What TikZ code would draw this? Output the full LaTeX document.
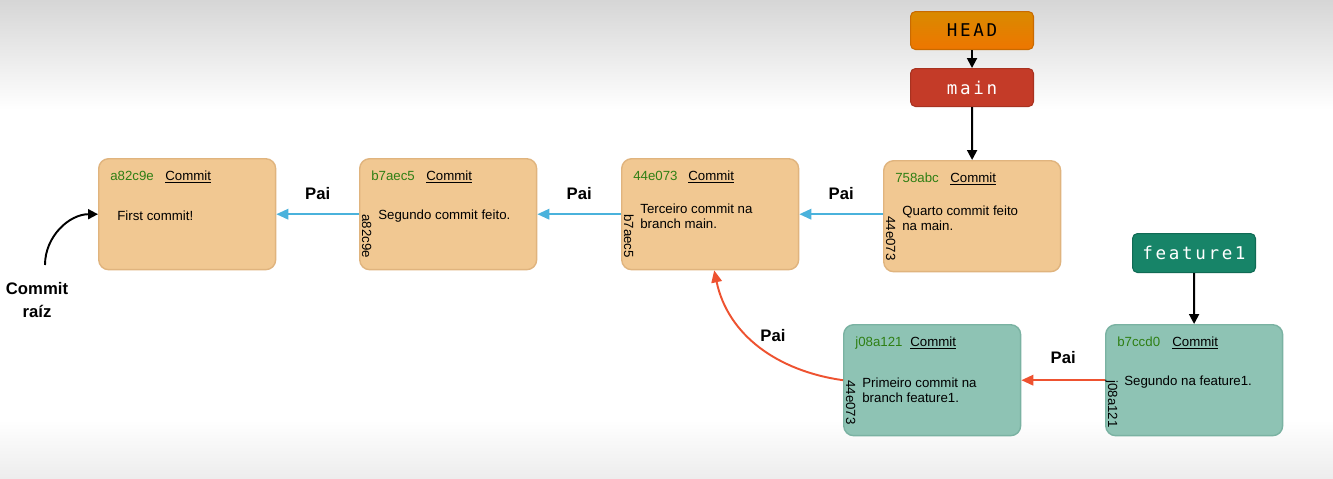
\documentclass[tikz,border=0pt]{standalone}
\usepackage{fontspec}
\setmainfont{Liberation Sans}
\newfontfamily\reffont[LetterSpace=15]{DejaVu Sans Mono}
\usetikzlibrary{arrows.meta,calc}

\definecolor{bgtop}{HTML}{D6D6D6}
\definecolor{bgbot}{HTML}{EDEDED}
\definecolor{commitfill}{HTML}{F1C892}
\definecolor{commitdraw}{HTML}{E0B47E}
\definecolor{featfill}{HTML}{8EC3B4}
\definecolor{featdraw}{HTML}{7AB2A2}
\definecolor{hashgreen}{HTML}{2F7F14}
\definecolor{paiblue}{HTML}{4AB2DC}
\definecolor{paired}{HTML}{EE5230}
\definecolor{headtop}{HTML}{D98A00}
\definecolor{headbot}{HTML}{EE7600}
\definecolor{headdraw}{HTML}{C96A00}
\definecolor{mainfill}{HTML}{C43B28}
\definecolor{maindraw}{HTML}{A83220}
\definecolor{featref}{HTML}{178468}
\definecolor{featrefdraw}{HTML}{106B55}

\begin{document}
\begin{tikzpicture}[x=0.02cm, y=-0.02cm,
  commit/.style={draw=commitdraw, fill=commitfill, line width=0.8pt, rounded corners=0.2cm,
    minimum width=3.54cm, minimum height=2.22cm, anchor=north west},
  featcommit/.style={commit, draw=featdraw, fill=featfill},
  small/.style={font=\fontsize{7.55}{8.6}\selectfont, inner sep=0},
  hash/.style={small, text=hashgreen, anchor=base west},
  title/.style={small, anchor=base west},
  msg/.style={small, anchor=west, align=left},
  parent/.style={small, anchor=base west, rotate=-90},
  ref/.style={font=\reffont\fontsize{10}{12}\selectfont, rounded corners=0.1cm, line width=0.6pt,
    minimum width=2.46cm, minimum height=0.76cm, anchor=north west},
  pai/.style={font=\bfseries\fontsize{9.5}{11}\selectfont, inner sep=0, text=black},
  paiarrow/.style={-{Triangle[length=2.4mm,width=2.1mm]}, line width=1.1pt},
  refarrow/.style={-{Triangle[length=2mm,width=2mm]}, line width=1.1pt, black},
]
\useasboundingbox (0,0) rectangle (1333,478);
\fill[white] (0,0) rectangle (1333,478);
\shade[top color=bgtop, bottom color=white] (0,0) rectangle (1333,110);
\shade[top color=white, bottom color=bgbot] (0,420) rectangle (1333,478);

% commits
\node[commit] (c1) at (98,158) {};
\node[commit] (c2) at (359,158) {};
\node[commit] (c3) at (621,158) {};
\node[commit] (c4) at (883,160) {};
\node[featcommit] (c5) at (843,324) {};
\node[featcommit] (c6) at (1105,324) {};

\foreach \c/\h in {c1/a82c9e, c2/b7aec5, c3/44e073, c4/758abc, c5/j08a121, c6/b7ccd0} {
  \node[hash] (\c-hash) at ($(\c.north west)+(12,22)$) {\h};
  \node[title] (\c-title) at ($(\c.north west)+(67,22)$) {\underline{Commit}};
}
\foreach \c/\p in {c2/a82c9e, c3/b7aec5, c4/44e073, c5/44e073, c6/j08a121}
  \node[parent] (\c-parent) at ($(\c.north west)+(3,56)$) {\p};

\node[msg] (c1-msg) at ($(c1.north west)+(19,58)$) {First commit!};
\node[msg] (c2-msg) at ($(c2.north west)+(19,58)$) {Segundo commit feito.};
\node[msg] (c3-msg) at ($(c3.north west)+(19,58.5)$) {Terceiro commit na\\branch main.};
\node[msg] (c4-msg) at ($(c4.north west)+(19,58.5)$) {Quarto commit feito\\na main.};
\node[msg] (c5-msg) at ($(c5.north west)+(19,66.5)$) {Primeiro commit na\\branch feature1.};
\node[msg] (c6-msg) at ($(c6.north west)+(19,58)$) {Segundo na feature1.};

% refs
\node[ref, top color=headtop, bottom color=headbot, draw=headdraw] (head) at (910,11) {HEAD};
\node[ref, fill=mainfill, draw=maindraw, text=white] (main) at (910,68) {main};
\node[ref, fill=featref, draw=featrefdraw, text=white, minimum height=0.78cm] (feature1) at (1132,233) {feature1};

\draw[refarrow] (head) -- (main);
\draw[refarrow] (main) -- (c4);
\draw[refarrow] (feature1) -- (c6);

% parents
\draw[paiarrow, paiblue] (c2.west) -- node[pai, above=0.28cm] (pai1) {Pai} (c1.east);
\draw[paiarrow, paiblue] (c3.west) -- node[pai, above=0.28cm] (pai2) {Pai} (c2.east);
\draw[paiarrow, paiblue] (c4.west |- c3.east) -- node[pai, above=0.28cm] (pai3) {Pai} (c3.east);
\draw[paiarrow, paired] (c6.west) -- node[pai, above=0.32cm] (pai4) {Pai} (c5.east);
\draw[paiarrow, paired] (c5.west) to[out=172, in=-78] ($(c3.south)+(4,0)$);
\node[pai] (pai5) at (773,336) {Pai};

% root
\node[pai, align=center, font=\bfseries\fontsize{9.5}{13.6}\selectfont] (raiz) at (37,300) {Commit\\raíz};
\coordinate (raizstart) at (45,265);
\draw[refarrow] (raizstart) to[out=90, in=180] (c1.west);
\end{tikzpicture}
\end{document}
